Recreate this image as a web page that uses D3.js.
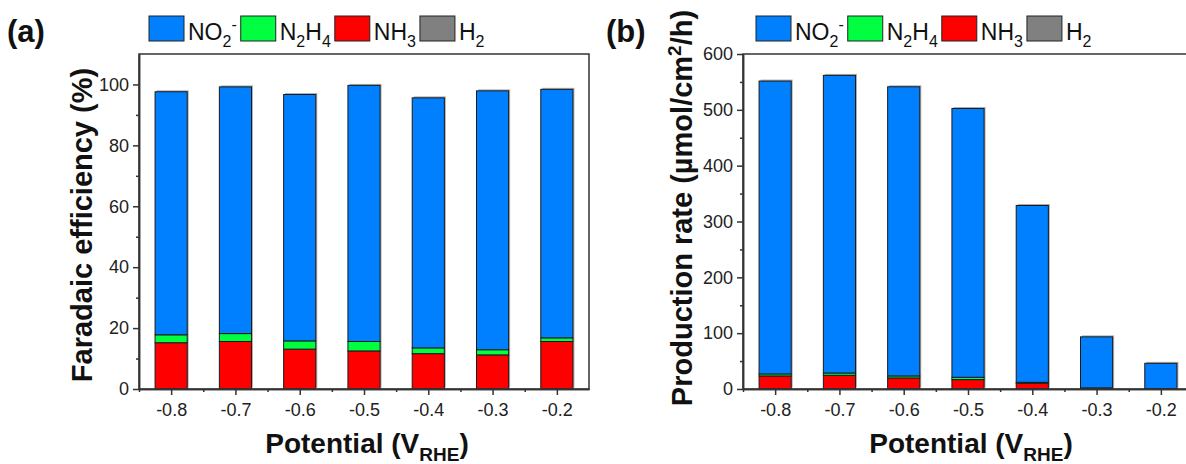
<!DOCTYPE html>
<html>
<head>
<meta charset="utf-8">
<script src="https://cdn.jsdelivr.net/npm/d3@7"></script>
<style>
    body { margin: 0; background: #fff; }
    svg { display: block; font-family: "Liberation Sans", Arial, sans-serif; }
    .axis path, .axis line { stroke: #333; stroke-width: 1.5; }
    .axis text { font-size: 18px; fill: #222; }
</style>
</head>
<body>
<svg id="chart" width="1186" height="464"></svg>
<script>
// categories
const potentials = [-0.8, -0.7, -0.6, -0.5, -0.4, -0.3, -0.2];

// (a) faradaic efficiency, %
const feNO2 = [79.8, 81.0, 80.9, 84.1, 82.1, 85.0, 81.6];
const feN2H4 = [2.6, 2.6, 2.7, 3.1, 1.9, 1.7, 1.2];
const feNH3 = [15.2, 15.6, 13.1, 12.5, 11.6, 11.2, 15.6];
const feH2 = [0, 0, 0, 0, 0, 0, 0];

// (b) production rate, µmol/cm2/h
const rateNO2 = [524.5, 533.0, 517.9, 481.4, 316.7, 91.4, 45.2];
const rateN2H4 = [3.6, 4.1, 3.6, 4.2, 1.8, 1.0, 0.3];
const rateNH3 = [23.4, 24.6, 19.8, 16.8, 10.2, 1.0, 0.5];
const rateH2 = [0, 0, 0, 0, 0, 0, 0];

// ticks
const feTicks = [0, 20, 40, 60, 80, 100];
const feMinor = [10, 30, 50, 70, 90];
const rateTicks = [0, 100, 200, 300, 400, 500, 600];
const rateMinor = [50, 150, 250, 350, 450, 550];
const xMinor = [-0.85, -0.75, -0.65, -0.55, -0.45, -0.35, -0.25];

const colors = {NO2: '#0080ff', N2H4: '#00ff40', NH3: '#ff0000', H2: '#808080'};
const stackKeys = ['NH3', 'N2H4', 'NO2', 'H2'];
const legendItems = [
    {key: 'NO2', base: 'NO', sub: '2', sup: '-'},
    {key: 'N2H4', parts: [['N', 0], ['2', 1], ['H', 0], ['4', 1]]},
    {key: 'NH3', base: 'NH', sub: '3'},
    {key: 'H2', base: 'H', sub: '2'}
];

const svg = d3.select('#chart');

function buildRows(no2, n2h4, nh3, h2) {
    return potentials.map((p, i) => ({p, NO2: no2[i], N2H4: n2h4[i], NH3: nh3[i], H2: h2[i]}));
}

function drawLegend(g) {
    let cx = 0;
    legendItems.forEach(item => {
        g.append('rect')
            .attr('x', cx).attr('y', 0)
            .attr('width', 35).attr('height', 25)
            .attr('fill', colors[item.key])
            .attr('stroke', '#222').attr('stroke-width', 1);

        const t = g.append('text')
            .attr('x', cx + 39).attr('y', 24)
            .attr('font-size', 23).attr('fill', '#111');

        const parts = item.parts || [[item.base, 0], [item.sub, 1]].concat(item.sup ? [[item.sup, -1]] : []);
        let shift = 0;
        parts.forEach(([s, kind]) => {
            const dy = (kind === 1 ? 7 : kind === -1 ? -10 : 0) - shift;
            shift += dy;
            t.append('tspan')
                .attr('dy', dy)
                .attr('font-size', kind === 0 ? 23 : 16)
                .text(s);
        });
        cx += 39 + t.node().getComputedTextLength() + 4;
    });
}

function drawPanel({left, label, rows, yMax, ticks, minor, yTitle, legendX, labelX, titleCenter}) {

    const x = d3.scaleLinear().domain([-0.85, -0.15]).range([left, left + 450]);
    const y = d3.scaleLinear().domain([0, yMax]).range([389, 54]);
    const barW = x(0.05) - x(0);

    const series = d3.stack().keys(stackKeys)(rows);

    const g = svg.append('g');

    // bar shadow
    g.append('g').selectAll('rect')
        .data(rows)
        .join('rect')
        .attr('x', d => x(d.p) - barW / 2 + 1.5)
        .attr('y', d => y(d.NO2 + d.N2H4 + d.NH3 + d.H2) - 1.5)
        .attr('width', barW)
        .attr('height', d => y(0) - y(d.NO2 + d.N2H4 + d.NH3 + d.H2))
        .attr('fill', '#b0b0b0');

    g.append('g').selectAll('g')
        .data(series)
        .join('g')
        .attr('fill', d => colors[d.key])
        .selectAll('rect')
        .data(d => d)
        .join('rect')
        .attr('x', d => x(d.data.p) - barW / 2)
        .attr('y', d => y(d[1]))
        .attr('width', barW)
        .attr('height', d => y(d[0]) - y(d[1]))
        .attr('stroke', '#1a1a1a')
        .attr('stroke-width', d => d[1] - d[0] > 0 ? 1 : 0);

    // frame
    g.append('rect')
        .attr('x', left).attr('y', 54)
        .attr('width', 450).attr('height', 335)
        .attr('fill', 'none').attr('stroke', '#333').attr('stroke-width', 1.5);

    g.append('g').attr('class', 'axis')
        .attr('transform', `translate(${left},0)`)
        .call(d3.axisLeft(y).tickValues(ticks).tickSize(6).tickPadding(4).tickSizeOuter(0));
    g.append('g').attr('class', 'axis')
        .attr('transform', `translate(${left},0)`)
        .call(d3.axisLeft(y).tickValues(minor).tickSize(3).tickFormat('').tickSizeOuter(0));

    g.append('g').attr('class', 'axis')
        .attr('transform', 'translate(0,389)')
        .call(d3.axisBottom(x).tickValues(potentials).tickSize(6).tickPadding(8).tickSizeOuter(0)
            .tickFormat(d => d.toFixed(1)));
    g.append('g').attr('class', 'axis')
        .attr('transform', 'translate(0,389)')
        .call(d3.axisBottom(x).tickValues(xMinor).tickSize(3).tickFormat('').tickSizeOuter(0));

    g.selectAll('.axis text').attr('font-family', '"Liberation Sans", Arial, sans-serif').attr('font-size', 18);

    // x title
    const xt = g.append('text')
        .attr('x', left + 228).attr('y', 453)
        .attr('text-anchor', 'middle')
        .attr('font-size', 28).attr('font-weight', 'bold').attr('fill', '#111');
    xt.append('tspan').text('Potential (V');
    xt.append('tspan').attr('font-size', 19).attr('dy', 8).text('RHE');
    xt.append('tspan').attr('dy', -8).text(')');

    // y title
    const yt = g.append('text')
        .attr('transform', `translate(${left + yTitle.x},${titleCenter}) rotate(-90)`)
        .attr('text-anchor', 'middle')
        .attr('font-size', 29).attr('font-weight', 'bold').attr('fill', '#111');
    yTitle.parts.forEach(([s, kind]) => {
        yt.append('tspan')
            .attr('dy', kind === -1 ? -11 : kind === 2 ? 11 : 0)
            .attr('font-size', kind === -1 ? 19 : 29)
            .text(s);
    });

    // legend
    drawLegend(svg.append('g').attr('transform', `translate(${legendX},16)`));

    // panel label
    svg.append('text')
        .attr('x', labelX).attr('y', 42)
        .attr('font-size', 31).attr('font-weight', 'bold').attr('fill', '#111')
        .text(label);
}

drawPanel({
    left: 139,
    label: '(a)',
    rows: buildRows(feNO2, feN2H4, feNH3, feH2),
    yMax: 110,
    ticks: feTicks,
    minor: feMinor,
    yTitle: {x: -47, parts: [['Faradaic efficiency (%)', 0]]},
    legendX: 149,
    labelX: 7,
    titleCenter: 225
});

drawPanel({
    left: 743,
    label: '(b)',
    rows: buildRows(rateNO2, rateN2H4, rateNH3, rateH2),
    yMax: 600,
    ticks: rateTicks,
    minor: rateMinor,
    yTitle: {x: -51, parts: [['Production rate (\u00b5mol/cm', 0], ['2', -1], ['/h)', 2]]},
    legendX: 756,
    labelX: 606,
    titleCenter: 208
});
</script>
</body>
</html>
